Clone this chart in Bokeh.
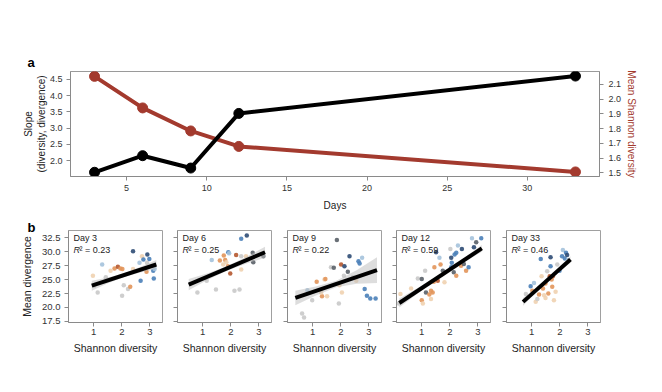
from bokeh.plotting import figure
from bokeh.layouts import column, row
from bokeh.models import LinearAxis, Range1d, Label, Title, FixedTicker, CustomJSTickFormatter, NumeralTickFormatter
from bokeh.embed import file_html
from bokeh.resources import INLINE

# ---------------- data ----------------
days = [3, 6, 9, 12, 33]
slope = [1.64, 2.15, 1.77, 3.45, 4.60]
mean_div = [2.154, 1.94, 1.784, 1.679, 1.506]

day_ticks = [5, 10, 15, 20, 25, 30]
slope_ticks = [2.0, 2.5, 3.0, 3.5, 4.0, 4.5]
div_ticks = [1.5, 1.6, 1.7, 1.8, 1.9, 2.0, 2.1]
meandiv_ticks = [17.5, 20.0, 22.5, 25.0, 27.5, 30.0, 32.5]
shannon_ticks = [1, 2, 3]

panel_days = ["Day 3", "Day 6", "Day 9", "Day 12", "Day 33"]
r2_values = ["0.23", "0.25", "0.22", "0.59", "0.46"]

d3_x = [1.30, 0.97, 1.02, 1.14, 1.74, 1.86, 1.95, 2.02, 2.07, 2.22, 2.01, 2.30, 2.40, 2.40, 2.63, 2.72, 2.67, 2.77, 2.91, 2.98, 2.88, 3.12, 3.17, 3.14, 2.90, 1.43, 1.60]
d3_y = [27.7, 25.7, 23.9, 22.7, 27.0, 27.3, 27.0, 26.9, 24.0, 23.3, 22.1, 23.7, 30.1, 26.9, 28.0, 29.2, 24.8, 28.6, 29.5, 28.7, 26.4, 26.6, 26.9, 25.2, 28.0, 25.4, 26.6]
d3_c = ["L", "E", "G", "G", "O", "R", "O", "O", "G", "G", "G", "O", "N", "E", "L", "E", "B", "B", "N", "B", "O", "B", "L", "B", "G", "G", "E"]

d6_x = [0.81, 1.32, 1.61, 1.75, 1.80, 1.91, 1.94, 1.84, 1.73, 1.90, 1.98, 2.13, 2.31, 2.19, 2.37, 2.57, 2.37, 2.37, 2.54, 2.78, 2.80, 3.16, 1.47, 1.14]
d6_y = [22.7, 28.5, 28.4, 29.3, 28.5, 29.9, 29.7, 28.1, 27.7, 27.4, 26.1, 23.0, 23.2, 29.4, 32.3, 32.9, 26.8, 29.2, 29.2, 29.8, 28.1, 29.2, 23.2, 24.8]
d6_c = ["G", "L", "O", "O", "O", "B", "L", "E", "E", "O", "R", "G", "G", "R", "B", "N", "E", "G", "E", "D", "D", "D", "G", "G"]

d9_x = [0.62, 0.69, 0.81, 1.14, 1.42, 1.45, 1.33, 1.51, 1.30, 0.98, 1.86, 1.65, 1.75, 1.93, 2.01, 2.13, 2.25, 2.11, 2.31, 2.04, 2.55, 2.63, 2.67, 2.76, 2.85, 2.93, 3.05, 3.24, 2.43, 1.95]
d9_y = [18.9, 18.2, 23.1, 24.6, 25.0, 25.1, 22.0, 22.0, 22.7, 21.3, 32.1, 27.2, 27.1, 20.7, 27.7, 27.4, 26.4, 25.7, 29.2, 22.7, 24.8, 28.3, 27.9, 28.9, 23.3, 22.1, 21.6, 21.6, 25.4, 24.0]
d9_c = ["G", "G", "L", "O", "E", "O", "O", "E", "E", "G", "D", "G", "D", "G", "R", "N", "D", "G", "N", "E", "E", "B", "B", "L", "B", "B", "B", "B", "G", "E"]

d12_x = [0.24, 0.18, 0.86, 1.00, 1.00, 1.04, 1.12, 1.15, 1.27, 1.33, 1.39, 1.43, 1.45, 1.51, 1.57, 1.63, 1.67, 1.81, 1.75, 2.05, 2.07, 2.17, 2.23, 2.05, 2.14, 2.23, 2.29, 2.43, 2.40, 2.50, 2.58, 2.67, 2.79, 2.86, 2.94, 3.12, 2.02, 0.62, 1.33]
d12_y = [22.4, 20.7, 25.2, 25.1, 21.3, 20.7, 26.6, 22.7, 22.3, 23.0, 22.7, 24.6, 27.2, 29.9, 24.8, 28.9, 27.7, 24.5, 26.6, 28.9, 28.0, 29.5, 29.8, 27.2, 26.3, 25.7, 31.1, 30.5, 27.5, 27.8, 26.6, 27.2, 32.4, 30.8, 31.7, 32.4, 30.5, 23.4, 21.5]
d12_c = ["E", "G", "G", "D", "O", "E", "G", "D", "O", "O", "O", "O", "O", "N", "R", "L", "O", "E", "D", "N", "B", "B", "B", "B", "D", "O", "L", "N", "O", "D", "O", "B", "L", "N", "D", "B", "G", "E", "E"]

d33_x = [0.79, 0.96, 1.08, 1.14, 1.26, 1.32, 1.35, 1.40, 1.49, 1.49, 1.55, 1.59, 1.64, 1.67, 1.67, 1.71, 1.73, 1.75, 1.79, 1.85, 1.91, 1.99, 2.08, 2.11, 2.18, 2.22, 2.26, 2.29, 1.44, 1.20, 1.02]
d33_y = [22.4, 23.8, 24.4, 21.0, 22.3, 28.7, 25.6, 23.4, 24.3, 21.7, 26.5, 22.5, 25.6, 29.0, 27.4, 25.0, 23.7, 25.6, 21.3, 22.8, 27.7, 26.6, 29.2, 30.3, 28.8, 29.8, 29.4, 28.5, 22.2, 21.5, 23.0]
d33_c = ["G", "B", "L", "E", "O", "B", "E", "O", "O", "E", "G", "O", "R", "N", "B", "O", "O", "R", "E", "E", "G", "B", "B", "L", "B", "B", "N", "L", "E", "G", "O"]

fit_x0 = [0.93, 0.50, 0.38, 0.20, 0.69]
fit_x1 = [3.23, 3.22, 3.29, 3.14, 2.38]
fit_y0 = [23.9, 24.1, 21.7, 20.8, 21.0]
fit_y1 = [27.7, 29.9, 26.7, 30.6, 28.6]
band_half = [
    [0.9, 0.5, 0.35, 0.5, 0.8],
    [1.0, 0.6, 0.4, 0.6, 1.0],
    [1.3, 0.8, 0.6, 1.2, 2.3],
    [0.8, 0.45, 0.3, 0.35, 0.6],
    [0.7, 0.4, 0.3, 0.4, 0.6],
]

# ---------------- styles ----------------
palette = {"N": "#2d4b74", "B": "#4a80b8", "L": "#a4c2dc", "G": "#c9c9c9",
           "E": "#efd2b0", "O": "#e2955a", "R": "#b5582f", "D": "#5a6068"}
RED = "#a33a2e"
FONT = "Liberation Sans"
AX = "#8a8a8a"
TXT = "#333333"


def style_axis(ax, size="9px", label_standoff=4, title_standoff=6):
    ax.axis_line_color = AX
    ax.major_tick_line_color = AX
    ax.minor_tick_line_color = None
    ax.major_tick_in = 0
    ax.major_tick_out = 4
    ax.major_label_text_font = FONT
    ax.major_label_text_font_size = size
    ax.major_label_text_color = TXT
    ax.axis_label_text_font = FONT
    ax.axis_label_text_font_style = "normal"
    ax.axis_label_text_color = "#222222"
    ax.major_label_standoff = label_standoff
    ax.axis_label_standoff = title_standoff


# ---------------- panel a ----------------
pa = figure(width=655, height=213, x_range=Range1d(1.5, 34.5), y_range=Range1d(1.51, 4.74),
            output_backend="svg", toolbar_location=None,
            min_border_left=70, min_border_right=56, min_border_top=71, min_border_bottom=36)
pa.grid.visible = False
pa.outline_line_color = "#9a9a9a"
pa.background_fill_color = "white"
pa.border_fill_color = "white"
pa.extra_y_ranges = {"div": Range1d(1.475, 2.187)}

pa.xaxis.ticker = FixedTicker(ticks=day_ticks)
pa.xaxis.axis_label = "Days"
pa.yaxis.ticker = FixedTicker(ticks=slope_ticks)
pa.yaxis.formatter = NumeralTickFormatter(format="0.0")
pa.yaxis.axis_label = "Slope\n(diversity, divergence)"
for ax in pa.xaxis:
    style_axis(ax, "9px", 4, 6)
    ax.axis_label_text_font_size = "10px"
for ax in pa.yaxis:
    style_axis(ax, "9px", 4, 0)
    ax.axis_label_text_font_size = "10px"

rax = LinearAxis(y_range_name="div", ticker=FixedTicker(ticks=div_ticks),
                 formatter=NumeralTickFormatter(format="0.0"),
                 axis_label="Mean Shannon diversity")
style_axis(rax, "9px", 5, 2)
rax.axis_label_text_font_size = "10px"
rax.axis_label_text_color = RED
pa.add_layout(rax, "right")

pa.line(days, mean_div, y_range_name="div", line_color=RED, line_width=4)
pa.scatter(days, mean_div, y_range_name="div", size=10, fill_color=RED, line_color=RED)
pa.line(days, slope, line_color="black", line_width=4)
pa.scatter(days, slope, size=10, fill_color="black", line_color="black")

pa.add_layout(Title(text="a", align="left", offset=-43, standoff=3,
                    text_font=FONT, text_font_style="bold", text_font_size="13px",
                    text_color="black"), "above")

# ---------------- panel b ----------------
xs_all = [d3_x, d6_x, d9_x, d12_x, d33_x]
ys_all = [d3_y, d6_y, d9_y, d12_y, d33_y]
cs_all = [d3_c, d6_c, d9_c, d12_c, d33_c]

border_left = [68, 14, 15, 14, 15]
FRAME_W, FRAME_H = 94, 92
figs = []
for i in range(5):
    bl = border_left[i]
    f = figure(width=bl + FRAME_W + 1, height=17 + FRAME_H + 38,
               x_range=Range1d(0.1, 3.45), y_range=Range1d(17.3, 33.8),
               output_backend="svg", toolbar_location=None,
               min_border_left=bl, min_border_right=1, min_border_top=17, min_border_bottom=38)
    f.grid.visible = False
    f.outline_line_color = "#a0a0a0"
    f.border_fill_color = "white"
    f.xaxis.ticker = FixedTicker(ticks=shannon_ticks)
    f.xaxis.axis_label = "Shannon diversity"
    f.yaxis.ticker = FixedTicker(ticks=meandiv_ticks)
    if i == 0:
        f.yaxis.formatter = NumeralTickFormatter(format="0.0")
        f.yaxis.axis_label = "Mean divergence"
    else:
        f.yaxis.formatter = CustomJSTickFormatter(code="return ''")
    for ax in f.xaxis:
        style_axis(ax, "9.5px", 2, 4)
        ax.axis_label_text_font_size = "10.5px"
    for ax in f.yaxis:
        style_axis(ax, "9.5px", 4, 6)
        ax.axis_label_text_font_size = "10.5px"

    cols = [palette[c] for c in cs_all[i]]
    f.scatter(xs_all[i], ys_all[i], size=4.5, fill_color=cols, line_color=None, fill_alpha=0.9)

    x0, x1, y0, y1 = fit_x0[i], fit_x1[i], fit_y0[i], fit_y1[i]
    ts = [0.0, 0.25, 0.5, 0.75, 1.0]
    bx = [x0 + t * (x1 - x0) for t in ts]
    by = [y0 + t * (y1 - y0) for t in ts]
    lo = [b - h for b, h in zip(by, band_half[i])]
    hi = [b + h for b, h in zip(by, band_half[i])]
    f.varea(x=bx, y1=lo, y2=hi, fill_color="#bcbcbc", fill_alpha=0.5)
    f.line([x0, x1], [y0, y1], line_color="black", line_width=4)

    f.add_layout(Label(x=5, y=FRAME_H - 7, x_units="screen", y_units="screen", text=panel_days[i],
                       text_font=FONT, text_font_size="9px", text_baseline="middle", text_color="#222222"))
    f.add_layout(Label(x=5, y=FRAME_H - 19, x_units="screen", y_units="screen", text="R",
                       text_font=FONT, text_font_size="9px", text_font_style="italic",
                       text_baseline="middle", text_color="#222222"))
    f.add_layout(Label(x=11, y=FRAME_H - 19, x_units="screen", y_units="screen", text="\u00b2 = " + r2_values[i],
                       text_font=FONT, text_font_size="9px", text_baseline="middle", text_color="#222222"))
    if i == 0:
        f.add_layout(Title(text="b", align="left", offset=-41, standoff=-9,
                           text_font=FONT, text_font_style="bold", text_font_size="13px",
                           text_color="black"), "above")
    figs.append(f)

layout = column(pa, row(*figs, spacing=0), spacing=0)
open("out.html", "w").write(file_html(layout, INLINE))
